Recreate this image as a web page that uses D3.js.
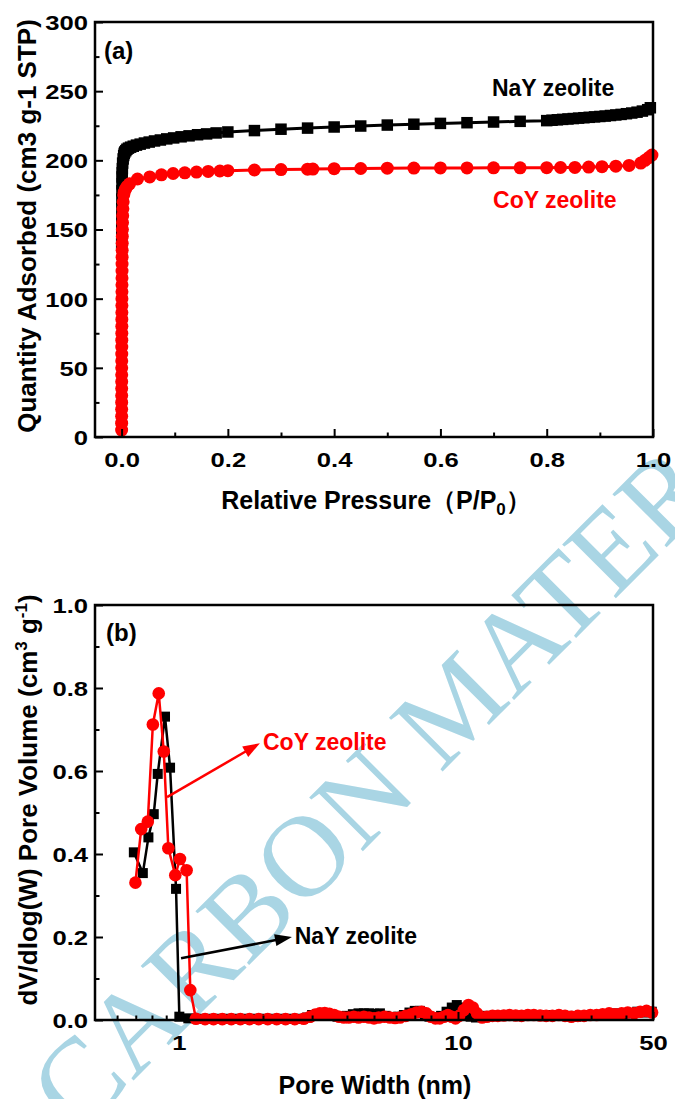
<!DOCTYPE html>
<html>
<head>
<meta charset="utf-8">
<script src="https://cdn.jsdelivr.net/npm/d3@7"></script>
<style>
  body { margin: 0; background: #fff; }
  text { font-family: "Liberation Sans", Arial, sans-serif; font-weight: bold; }
</style>
</head>
<body>
<svg id="fig" width="675" height="1099"></svg>
<script>
// ---- (a) N2 isotherms ----
var nayP = [0.0002,0.0003,0.0004,0.0005,0.0006,0.0007,0.0008,0.001,0.0012,0.0015,0.002,0.003,0.004,0.005,0.006,0.008,0.01,0.013,0.017,0.022,0.028,0.035,0.043,0.052,0.062,0.073,0.085,0.098,0.112,0.127,0.143,0.16,0.178,0.2,
  0.25,0.3,0.35,0.4,0.45,0.5,0.55,0.6,0.65,0.7,0.75,0.8,
  0.81,0.82,0.83,0.84,0.85,0.86,0.87,0.88,0.89,0.9,0.91,0.92,0.93,0.94,0.95,0.96,0.97,0.98,0.99,0.995];
var nayQ = [140,150,158,165,172,178,183,188,191,194,198,201,203.5,205,206,207,208,208.8,209.5,210.2,211,211.7,212.5,213.2,214,214.7,215.5,216.2,217,217.7,218.5,219.1,219.8,220.5,
  221.5,222.5,223.3,224.1,224.8,225.5,226.1,226.7,227.2,227.7,228.2,228.7,
  229,229.3,229.6,229.9,230.2,230.5,230.8,231.1,231.4,231.7,232,232.4,232.8,233.2,233.7,234.2,234.8,235.6,236.6,238];

var coyP = [0.0001,0.00012,0.00014,0.00016,0.00018,0.0002,0.00022,0.00024,0.00026,0.00028,0.0003,0.00033,0.00036,0.0004,0.00044,0.00048,0.00052,0.00056,
  0.0006,0.00065,0.0007,0.00075,0.0008,0.00085,0.0009,0.001,0.0011,0.0012,0.0014,0.0016,0.0018,0.0021,0.0025,0.003,0.004,
  0.005,0.007,0.01,0.015,
  0.03,0.053,0.075,0.097,0.119,0.141,0.163,0.185,0.2,0.25,0.3,0.35,0.36,0.4,0.45,0.5,0.55,0.6,0.65,0.7,0.75,0.8,
  0.826,0.853,0.879,0.904,0.93,0.955,0.977,0.985,0.992,0.998];
var coyQ = [5,10,15,20,25,30,35,40,45,50,55,60,65,70,75,80,85,90,
  95,100,105,110,115,120,125,130,135,140,145,150,155,160,165,170,175,
  177,179,181,183,
  186.5,188,189.5,190.5,191,191.5,192,192.3,192.5,193,193.3,193.6,193.7,194,194.1,194.3,194.4,194.5,194.5,194.6,194.6,194.7,
  194.8,194.9,195.1,195.4,195.8,196.3,198,200,202,203.8];

var xTicksA = [0, 0.2, 0.4, 0.6, 0.8, 1.0];
var xMinorA = [0.1, 0.3, 0.5, 0.7, 0.9];
var yTicksA = [0, 50, 100, 150, 200, 250, 300];
var yMinorA = [25, 75, 125, 175, 225, 275];

// ---- (b) pore size distribution ----
var nayW = [0.689,0.742,0.777,0.812,0.839,0.891,0.929,0.976,1.003,
  1.08,1.17,1.27,1.38,1.5,1.63,1.77,1.92,2.08,2.26,2.45,2.66,2.88,3.0,3.12,3.25,3.4,3.55,3.7,3.85,4.0,4.2,4.4,4.6,4.8,5.0,5.25,5.5,5.8,6.1,6.4,6.7,7.0,7.3,7.6,7.9,
  8.3,8.7,9.1,9.5,9.9,10.3,10.7,11.1,11.6,12.1,12.7,13.4,14.1,14.9,15.7,16.6,17.5,18.5,19.6,20.8,22,23.4,24.9,26.5,28.2,30,32,34,36.3,38.7,41.2,43.9,46.7,49.5];
var nayV = [0.404,0.354,0.440,0.496,0.593,0.731,0.608,0.316,0.008,
  0.004,0.003,0.003,0.003,0.003,0.003,0.003,0.003,0.003,0.003,0.003,0.003,0.006,0.012,0.014,0.012,0.012,0.01,0.008,0.008,0.01,0.014,0.016,0.016,0.016,0.015,0.016,0.01,0.006,0.008,0.012,0.018,0.022,0.022,0.014,0.008,
  0.006,0.01,0.02,0.03,0.036,0.03,0.014,0.008,0.006,0.008,0.01,0.01,0.01,0.012,0.01,0.01,0.012,0.01,0.01,0.012,0.012,0.01,0.01,0.008,0.01,0.012,0.012,0.014,0.016,0.014,0.016,0.02,0.018,0.02];

var coyW = [0.698,0.732,0.773,0.806,0.846,0.882,0.916,0.970,1.008,1.065,1.098,1.15,
  1.24,1.33,1.43,1.54,1.66,1.79,1.93,2.08,2.24,2.41,2.6,2.8,2.95,3.08,3.2,3.33,3.46,3.6,3.75,3.9,4.06,4.23,4.4,4.6,4.8,5.0,5.2,5.45,5.7,5.95,6.2,6.5,6.8,7.1,7.4,7.7,8.0,
  8.3,8.6,8.9,9.2,9.5,9.8,10.1,10.5,10.9,11.3,11.7,12.2,12.7,13.3,13.9,14.6,15.3,16.1,16.9,17.8,18.7,19.7,20.7,21.8,23,24.2,25.5,26.9,28.3,29.8,31.4,33,34.8,36.6,38.6,40.6,42.8,45,47.4,49.6];
var coyV = [0.331,0.460,0.478,0.712,0.787,0.647,0.414,0.349,0.388,0.361,0.072,0.003,
  0.002,0.002,0.002,0.002,0.002,0.002,0.002,0.002,0.002,0.002,0.002,0.003,0.008,0.013,0.016,0.017,0.015,0.012,0.008,0.006,0.006,0.008,0.006,0.008,0.006,0.004,0.006,0.008,0.006,0.005,0.006,0.01,0.014,0.018,0.02,0.016,0.008,
  0.004,0.004,0.008,0.012,0.008,0.004,0.01,0.024,0.036,0.03,0.016,0.006,0.008,0.01,0.01,0.011,0.012,0.011,0.01,0.012,0.012,0.011,0.01,0.01,0.012,0.01,0.008,0.01,0.01,0.012,0.012,0.014,0.016,0.014,0.016,0.018,0.016,0.02,0.022,0.018];

var xTicksB = [1, 10, 50];
var xMinorB = [0.6, 0.7, 0.8, 0.9, 2, 3, 4, 5, 6, 7, 8, 9, 20, 30, 40];
var yTicksB = [0, 0.2, 0.4, 0.6, 0.8, 1.0];
var yMinorB = [0.1, 0.3, 0.5, 0.7, 0.9];

var BLACK = "#000", RED = "#ff0000", WATER = "#a9d5e4";
var plotLeft = 95, plotRight = 653;

var svg = d3.select("#fig");

// watermark behind everything (runs off the page like in the source)
svg.append("text")
  .attr("transform", "translate(78,1136) rotate(-45)")
  .attr("style", "font-family:'Liberation Serif','DejaVu Serif',serif;font-weight:normal;font-size:116px")
  .attr("fill", WATER)
  .text("CARBON MATER");

function drawAxes(g, x, y, top, bottom, xt, xm, yt, ym, xfmt, yfmt) {
  var ax = g.append("g").attr("transform", "translate(0," + bottom + ")")
    .call(d3.axisBottom(x).tickValues(xt).tickSize(-8).tickFormat(xfmt));
  g.append("g").attr("transform", "translate(0," + bottom + ")")
    .call(d3.axisBottom(x).tickValues(xm).tickSize(-4.5).tickFormat(""));
  var ay = g.append("g").attr("transform", "translate(" + plotLeft + ",0)")
    .call(d3.axisLeft(y).tickValues(yt).tickSize(-8).tickFormat(yfmt));
  g.append("g").attr("transform", "translate(" + plotLeft + ",0)")
    .call(d3.axisLeft(y).tickValues(ym).tickSize(-4.5).tickFormat(""));
  g.selectAll(".domain").remove();
  g.selectAll(".tick line").attr("stroke", BLACK).attr("stroke-width", 2);
  ax.selectAll("text").attr("y", 30).attr("dy", null)
    .attr("font-size", 20.5).attr("font-family", null).attr("fill", BLACK)
    .attr("transform", "scale(1.25,1)");
  ay.selectAll("text").attr("x", -7 / 1.25).attr("dy", "0.36em")
    .attr("font-size", 20.5).attr("font-family", null).attr("fill", BLACK)
    .attr("transform", "scale(1.25,1)");
  g.append("rect")
    .attr("x", plotLeft).attr("y", top)
    .attr("width", plotRight - plotLeft).attr("height", bottom - top)
    .attr("fill", "none").attr("stroke", BLACK).attr("stroke-width", 2.5);
}

function drawSeries(g, pts, x, y, color, lw, shape, size) {
  var line = d3.line().x(function(d) { return x(d[0]); }).y(function(d) { return y(d[1]); });
  g.append("path").datum(pts).attr("d", line)
    .attr("fill", "none").attr("stroke", color).attr("stroke-width", lw).attr("stroke-linejoin", "round");
  if (shape === "square") {
    g.selectAll(null).data(pts).enter().append("rect")
      .attr("x", function(d) { return x(d[0]) - size / 2; })
      .attr("y", function(d) { return y(d[1]) - size / 2; })
      .attr("width", size).attr("height", size).attr("fill", color);
  } else {
    g.selectAll(null).data(pts).enter().append("circle")
      .attr("cx", function(d) { return x(d[0]); })
      .attr("cy", function(d) { return y(d[1]); })
      .attr("r", size).attr("fill", color);
  }
}

function arrow(g, x1, y1, x2, y2, color) {
  var dx = x2 - x1, dy = y2 - y1, len = Math.sqrt(dx * dx + dy * dy);
  var ux = dx / len, uy = dy / len, hl = 17, hw = 6;
  g.append("line").attr("x1", x1).attr("y1", y1)
    .attr("x2", x2 - ux * hl * 0.8).attr("y2", y2 - uy * hl * 0.8)
    .attr("stroke", color).attr("stroke-width", 2.5);
  var bx = x2 - ux * hl, by = y2 - uy * hl;
  g.append("polygon")
    .attr("points", [[x2, y2], [bx - uy * hw, by + ux * hw], [bx + uy * hw, by - ux * hw]].join(" "))
    .attr("fill", color);
}

// ================= panel (a) =================
var xa = d3.scaleLinear().domain([-0.05, 1.0]).range([plotLeft, plotRight]);
var ya = d3.scaleLinear().domain([0, 300]).range([437, 22]);
var ga = svg.append("g");

drawSeries(ga, d3.zip(nayP, nayQ), xa, ya, BLACK, 3, "square", 11.5);
drawSeries(ga, d3.zip(coyP, coyQ), xa, ya, RED, 3, "circle", 6.5);
drawAxes(ga, xa, ya, 22, 437, xTicksA, xMinorA, yTicksA, yMinorA, d3.format(".1f"), d3.format("d"));

ga.append("text").attr("x", 104).attr("y", 59).attr("font-size", 24).text("(a)");
ga.append("text").attr("x", xa(0.697)).attr("y", ya(246.5)).attr("font-size", 23).attr("fill", BLACK).text("NaY zeolite");
ga.append("text").attr("x", xa(0.699)).attr("y", ya(165.4)).attr("font-size", 23).attr("fill", RED).text("CoY zeolite");

ga.append("text").attr("transform", "translate(36,226) rotate(-90)")
  .attr("text-anchor", "middle").attr("font-size", 26)
  .text("Quantity Adsorbed (cm3 g-1 STP)");

var tA = ga.append("text").attr("x", 376).attr("y", 509).attr("text-anchor", "middle").attr("font-size", 25);
tA.append("tspan").text("Relative Pressure\uFF08P/P");
tA.append("tspan").attr("dy", 6).attr("font-size", 17).text("0");
tA.append("tspan").attr("dy", -6).text("\uFF09");

// ================= panel (b) =================
var xb = d3.scaleLog().domain([0.5, 50]).range([plotLeft, plotRight]);
var yb = d3.scaleLinear().domain([0, 1]).range([1020, 605]);
var gb = svg.append("g");

drawSeries(gb, d3.zip(nayW, nayV), xb, yb, BLACK, 2.5, "square", 10);
drawSeries(gb, d3.zip(coyW, coyV), xb, yb, RED, 2.5, "circle", 6.3);
drawAxes(gb, xb, yb, 605, 1020, xTicksB, xMinorB, yTicksB, yMinorB, d3.format("d"), d3.format(".1f"));

gb.append("text").attr("x", 106).attr("y", 641).attr("font-size", 24).text("(b)");

arrow(gb, xb(0.906), yb(0.537), xb(1.95), yb(0.667), RED);
gb.append("text").attr("x", xb(2.0)).attr("y", yb(0.651)).attr("font-size", 23).attr("fill", RED).text("CoY zeolite");
arrow(gb, xb(1.017), yb(0.149), xb(2.54), yb(0.2), BLACK);
gb.append("text").attr("x", xb(2.6)).attr("y", yb(0.183)).attr("font-size", 23).attr("fill", BLACK).text("NaY zeolite");

var tYb = gb.append("text").attr("transform", "translate(37,800) rotate(-90)")
  .attr("text-anchor", "middle").attr("font-size", 26);
tYb.append("tspan").text("dV/dlog(W) Pore Volume (cm");
tYb.append("tspan").attr("dy", -10).attr("font-size", 17).text("3");
tYb.append("tspan").attr("dy", 10).text(" g");
tYb.append("tspan").attr("dy", -10).attr("font-size", 17).text("-1");
tYb.append("tspan").attr("dy", 10).text(")");

gb.append("text").attr("x", 375).attr("y", 1094).attr("text-anchor", "middle").attr("font-size", 25)
  .text("Pore Width (nm)");
</script>
</body>
</html>
